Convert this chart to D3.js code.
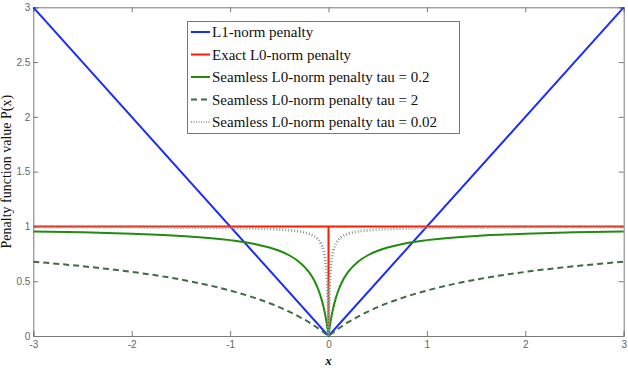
<!DOCTYPE html>
<html><head><meta charset="utf-8">
<script src="https://cdn.jsdelivr.net/npm/d3@7"></script>
<style>body{margin:0;background:#fff}</style>
</head><body><svg id="c" width="628" height="368"></svg>
<script>
const xTicks = [-3,-2,-1,0,1,2,3];
const xTickLabels = ["-3","-2","-1","0","1","2","3"];
const yTicks = [0,0.5,1,1.5,2,2.5,3];
const yTickLabels = ["0","0.5","1","1.5","2","2.5","3"];
const l1X = [-3,0,3];
const l1Y = [3,0,3];
const l0X = [-3,0,0,0,3];
const l0Y = [1,1,0,1,1];
const sX = [-3,-2.5,-2,-1.5,-1,-0.75,-0.5,-0.4,-0.3,-0.2,-0.15,-0.1,-0.075,-0.05,-0.03,-0.02,-0.01,-0.005,0,
            0.005,0.01,0.02,0.03,0.05,0.075,0.1,0.15,0.2,0.3,0.4,0.5,0.75,1,1.5,2,2.5,3];
const tau02 = [0.954,0.946,0.933,0.913,0.875,0.840,0.778,0.737,0.678,0.585,0.515,0.415,0.348,0.263,0.177,0.126,0.067,0.035,0,
               0.035,0.067,0.126,0.177,0.263,0.348,0.415,0.515,0.585,0.678,0.737,0.778,0.840,0.875,0.913,0.933,0.946,0.954];
const tau2 = [0.678,0.637,0.585,0.515,0.415,0.348,0.263,0.222,0.177,0.126,0.097,0.067,0.051,0.035,0.021,0.014,0.007,0.004,0,
              0.004,0.007,0.014,0.021,0.035,0.051,0.067,0.097,0.126,0.177,0.222,0.263,0.348,0.415,0.515,0.585,0.637,0.678];
const tau002 = [0.995,0.994,0.993,0.990,0.986,0.981,0.972,0.965,0.954,0.933,0.913,0.875,0.840,0.778,0.678,0.585,0.415,0.263,0,
                0.263,0.415,0.585,0.678,0.778,0.840,0.875,0.913,0.933,0.954,0.965,0.972,0.981,0.986,0.990,0.993,0.994,0.995];
const legendLabels = ["L1-norm penalty","Exact L0-norm penalty","Seamless L0-norm penalty tau = 0.2","Seamless L0-norm penalty tau = 2","Seamless L0-norm penalty tau = 0.02"];

const svg = d3.select("#c");
const L=33.3, R=623.7, T=7.3, B=336;
const x = d3.scaleLinear().domain([-3,3]).range([L,R]);
const y = d3.scaleLinear().domain([0,3]).range([B,T]);
const axisCol = "#7a7a7a";

const gx = svg.append("g").attr("transform",`translate(0,${B})`)
  .call(d3.axisBottom(x).tickValues(xTicks).tickSize(-5).tickPadding(5).tickFormat((d,i)=>xTickLabels[i]));
const gy = svg.append("g").attr("transform",`translate(${L},0)`)
  .call(d3.axisLeft(y).tickValues(yTicks).tickSize(-5).tickPadding(3).tickFormat((d,i)=>yTickLabels[i]));
const gt = svg.append("g").attr("transform",`translate(0,${T})`)
  .call(d3.axisTop(x).tickValues(xTicks).tickSize(-5).tickFormat(""));
const gr = svg.append("g").attr("transform",`translate(${R},0)`)
  .call(d3.axisRight(y).tickValues(yTicks).tickSize(-5).tickFormat(""));
[gx,gy,gt,gr].forEach(g=>{
  g.selectAll("path.domain").attr("stroke",axisCol);
  g.selectAll("line").attr("stroke",axisCol);
  g.selectAll("text").attr("fill","#666").style("font-family","Liberation Sans, Arial, sans-serif").style("font-size","10px");
});

const line = d3.line().x(d=>x(d[0])).y(d=>y(d[1]));
const curve = d3.line().x(d=>x(d[0])).y(d=>y(d[1])).curve(d3.curveMonotoneX);
const zip = (a,b)=>a.map((v,i)=>[v,b[i]]);

const plot = svg.append("g");
plot.append("path").attr("d",line(zip(l1X,l1Y))).attr("fill","none").attr("stroke","#1a2cff").attr("stroke-width",2);
plot.append("path").attr("d",line(zip(l0X,l0Y))).attr("fill","none").attr("stroke","#ff1a00").attr("stroke-width",2);
plot.append("path").attr("d",curve(zip(sX,tau02))).attr("fill","none").attr("stroke","#228b10").attr("stroke-width",2);
plot.append("path").attr("d",curve(zip(sX,tau2))).attr("fill","none").attr("stroke","#3d6b48").attr("stroke-width",2).attr("stroke-dasharray","6,4");
plot.append("path").attr("d",curve(zip(sX,tau002))).attr("fill","none").attr("stroke","#8c9890").attr("stroke-width",2.8).attr("stroke-dasharray","1,2");

const lg = svg.append("g");
lg.append("rect").attr("x",187.5).attr("y",21.5).attr("width",272).attr("height",112).attr("fill","#fff").attr("stroke","#7a7a7a").attr("stroke-width",1);
const styles = [
  {c:"#1a2cff",d:null,w:2},
  {c:"#ff1a00",d:null,w:2},
  {c:"#228b10",d:null,w:2},
  {c:"#3d6b48",d:"6,4",w:2},
  {c:"#a0aaa4",d:"1,1.5",w:2}
];
legendLabels.forEach((t,i)=>{
  const yy = 32 + i*22.5;
  lg.append("line").attr("x1",191).attr("x2",210).attr("y1",yy).attr("y2",yy)
    .attr("stroke",styles[i].c).attr("stroke-width",styles[i].w).attr("stroke-dasharray",styles[i].d);
  lg.append("text").attr("x",212).attr("y",yy+5).text(t)
    .style("font-family","Liberation Serif, Times New Roman, serif").style("font-size","15px").attr("fill","#111");
});

svg.append("text").attr("transform",`translate(11,${(T+B)/2}) rotate(-90)`).attr("text-anchor","middle")
  .text("Penalty function value P(x)").style("font-family","Liberation Serif, Times New Roman, serif").style("font-size","14px").attr("fill","#111");
svg.append("text").attr("x",x(0)).attr("y",365).attr("text-anchor","middle").text("x")
  .style("font-family","Liberation Serif, Times New Roman, serif").style("font-size","13px").style("font-style","italic").style("font-weight","bold").attr("fill","#111");
</script></body></html>
